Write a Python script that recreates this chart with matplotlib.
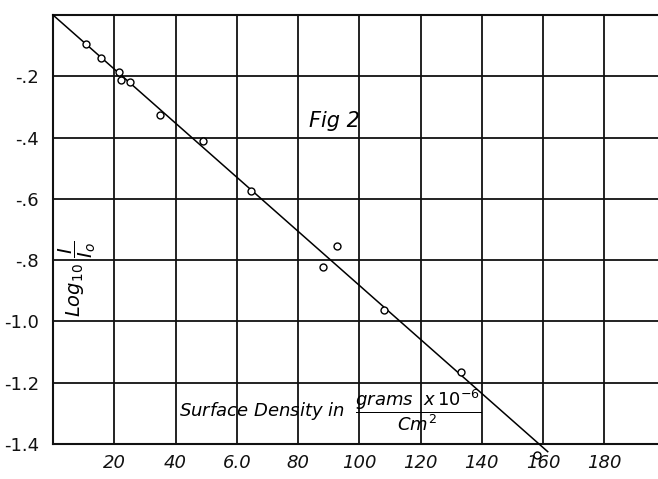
import matplotlib.pyplot as plt
import numpy as np

# Measured points: surface density (grams/cm^2 x 10^-6) vs log10(I/Io)
density = [10.7, 15.6, 21.7, 22.2, 25.0, 35.0, 49.1, 64.6, 88.0, 92.6, 108.2, 133.1, 158.0]
log_ratio = [-0.094, -0.140, -0.187, -0.212, -0.218, -0.326, -0.411, -0.575,
             -0.822, -0.753, -0.964, -1.166, -1.436]

# Hand-drawn straight line through the data
fit_x = [0, 161.5]
fit_y = [0, -1.425]

x_ticks = [20, 40, 60, 80, 100, 120, 140, 160, 180]
x_labels = ['20', '40', '6.0', '80', '100', '120', '140', '160', '180']
y_ticks = [-0.2, -0.4, -0.6, -0.8, -1.0, -1.2, -1.4]
y_labels = ['-.2', '-.4', '-.6', '-.8', '-1.0', '-1.2', '-1.4']

fig = plt.figure(figsize=(6.58, 4.79), dpi=100)
ax = fig.add_axes([53 / 658, 35 / 479, 605 / 658, 429 / 479])

ax.set_xlim(0, 197.5)
ax.set_ylim(-1.4, 0)

# grid, like the ruled paper
ax.set_xticks(x_ticks, x_labels, fontstyle='italic')
ax.set_yticks(y_ticks, y_labels)
ax.grid(True, color='#111111', linewidth=1.3)
ax.tick_params(axis='y', length=0, labelsize=13, pad=10, colors='#111111')
ax.tick_params(axis='x', length=0, labelsize=13, pad=7, colors='#111111')
for side in ['left', 'top', 'bottom']:
    ax.spines[side].set_linewidth(1.5)
    ax.spines[side].set_color('#111111')
ax.spines['right'].set_visible(False)

ax.plot(fit_x, fit_y, color='black', linewidth=1.1, clip_on=False, zorder=3)
ax.plot(density, log_ratio, linestyle='none', marker='o', markersize=5,
        markerfacecolor='white', markeredgecolor='black', markeredgewidth=1.0,
        clip_on=False, zorder=4)

ax.text(92, -0.345, 'Fig 2', fontsize=15, fontstyle='italic', ha='center', va='center')
ax.text(8, -0.86, r'Log$_{10}\ \dfrac{I}{I_o}$', fontsize=14, rotation=90,
        ha='center', va='center', fontstyle='italic')
ax.text(41, -1.29, r'Surface Density in  $\dfrac{grams\ \ x\,10^{-6}}{Cm^{2}}$',
        fontsize=13, fontstyle='italic', ha='left', va='center')

plt.savefig('out.png', dpi=100)
